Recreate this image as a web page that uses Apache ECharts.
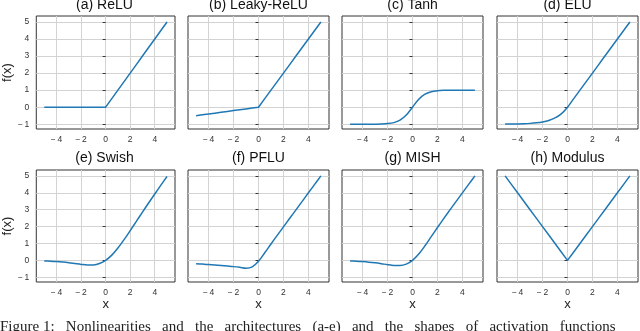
<!DOCTYPE html>
<html>
<head>
<meta charset="utf-8">
<script src="https://cdn.jsdelivr.net/npm/echarts@6/dist/echarts.min.js"></script>
<style>
html, body { margin: 0; padding: 0; background: #fff; }
#main { width: 640px; height: 331px; }
</style>
</head>
<body>
<div id="main"></div>
<script>
// x 采样点
var xs = [-5, -4.5, -4, -3.5, -3, -2.5, -2, -1.5, -1, -0.5, 0, 0.5, 1, 1.5, 2, 2.5, 3, 3.5, 4, 4.5, 5];

var relu = [0, 0, 0, 0, 0, 0, 0, 0, 0, 0, 0, 0.5, 1, 1.5, 2, 2.5, 3, 3.5, 4, 4.5, 5];
var leaky = [-0.5, -0.45, -0.4, -0.35, -0.3, -0.25, -0.2, -0.15, -0.1, -0.05, 0, 0.5, 1, 1.5, 2, 2.5, 3, 3.5, 4, 4.5, 5];
var tanhV = [-1, -1, -0.999, -0.998, -0.995, -0.987, -0.964, -0.905, -0.762, -0.462, 0, 0.462, 0.762, 0.905, 0.964, 0.987, 0.995, 0.998, 0.999, 1, 1];
var elu = [-0.993, -0.989, -0.982, -0.97, -0.95, -0.918, -0.865, -0.777, -0.632, -0.393, 0, 0.5, 1, 1.5, 2, 2.5, 3, 3.5, 4, 4.5, 5];
var swish = [-0.034, -0.05, -0.072, -0.103, -0.142, -0.19, -0.238, -0.274, -0.269, -0.189, 0, 0.311, 0.731, 1.226, 1.762, 2.31, 2.858, 3.397, 3.928, 4.451, 4.967];
var pflu = [-0.2, -0.22, -0.25, -0.28, -0.31, -0.34, -0.37, -0.41, -0.46, -0.38, -0.05, 0.45, 0.97, 1.48, 1.98, 2.49, 2.99, 3.49, 4, 4.5, 5];
var mish = [-0.034, -0.05, -0.073, -0.104, -0.146, -0.197, -0.253, -0.298, -0.303, -0.221, 0, 0.375, 0.865, 1.403, 1.944, 2.471, 2.987, 3.494, 3.997, 4.499, 5];
var modulus = [5, 4.5, 4, 3.5, 3, 2.5, 2, 1.5, 1, 0.5, 0, 0.5, 1, 1.5, 2, 2.5, 3, 3.5, 4, 4.5, 5];

var titles = ['(a) ReLU', '(b) Leaky-ReLU', '(c) Tanh', '(d) ELU', '(e) Swish', '(f) PFLU', '(g) MISH', '(h) Modulus'];
var curves = [relu, leaky, tanhV, elu, swish, pflu, mish, modulus];
var smoothFlag = [false, false, 0.3, 0.3, 0.3, 0.3, 0.3, false];
var xTicks = [-4, -2, 0, 2, 4];
var yTicks = [-1, 0, 1, 2, 3, 4, 5];
var caption = 'Figure 1:   Nonlinearities   and   the   architectures   (a-e)   and   the   shapes   of   activation   functions';

var lefts = [34, 188, 342, 497];
var tops = [16, 170];
var W = 141, H = 113;

function fmt(v) {
	return v < 0 ? '\u2212\u2009' + (-v) : String(v);
}

var grids = [], xAxes = [], yAxes = [], series = [], graphics = [];
for (var i = 0; i < 8; i++) {
	var col = i % 4, row = Math.floor(i / 4);
	grids.push({
		left: lefts[col], top: tops[row], width: W, height: row == 0 ? H : 112,
		show: true, borderColor: '#333', borderWidth: 1, backgroundColor: '#fff', z: 0
	});
	xAxes.push({
		type: 'value', gridIndex: i, min: -5.65, max: 5.65,
		name: row == 1 ? 'x' : '', nameLocation: 'middle', nameGap: 16,
		nameTextStyle: { fontFamily: 'Liberation Sans', fontSize: 13, color: '#222' },
		axisLine: { show: false },
		axisTick: { show: false, customValues: xTicks },
		axisLabel: { customValues: xTicks, formatter: fmt, margin: 6, fontFamily: 'Liberation Sans', fontSize: 8.5, color: '#333' },
		splitLine: { show: true, lineStyle: { color: '#d3d3d3', width: 1 } }
	});
	yAxes.push({
		type: 'value', gridIndex: i, min: -1.28, max: 5.35,
		name: col == 0 ? 'f(x)' : '', nameLocation: 'middle', nameGap: 22,
		nameTextStyle: { fontFamily: 'Liberation Sans', fontSize: 13, color: '#222' },
		axisLine: { show: false },
		axisTick: { show: true, length: 3, customValues: yTicks, lineStyle: { color: '#333', width: 1 } },
		axisLabel: { show: col == 0, customValues: yTicks, formatter: fmt, margin: 7, fontFamily: 'Liberation Sans', fontSize: 8.5, color: '#333' },
		splitLine: { show: true, lineStyle: { color: '#d3d3d3', width: 1 } }
	});
	var ys = curves[i];
	series.push({
		type: 'line', xAxisIndex: i, yAxisIndex: i,
		data: xs.map(function(x, k) { return [x, ys[k]]; }),
		showSymbol: false, smooth: smoothFlag[i],
		lineStyle: { color: '#1f77b4', width: 1.5 },
		z: 3
	});
	graphics.push({
		type: 'text', x: lefts[col] + W / 2, y: row == 0 ? 5 : 158.5,
		style: { text: titles[i], fontFamily: 'Liberation Sans', fontSize: 14, fill: '#111', textAlign: 'center', textVerticalAlign: 'middle' }
	});
}
//图注（底部被裁切）
graphics.push({
	type: 'text', x: 0, y: 320,
	style: { text: caption, fontFamily: 'Liberation Serif', fontSize: 15, fill: '#222', textAlign: 'left', textVerticalAlign: 'top' }
});

var myChart = echarts.init(document.getElementById('main'), null, { renderer: 'canvas' });
myChart.setOption({
	animation: false,
	backgroundColor: '#fff',
	grid: grids,
	xAxis: xAxes,
	yAxis: yAxes,
	series: series,
	graphic: graphics
});
</script>
</body>
</html>
